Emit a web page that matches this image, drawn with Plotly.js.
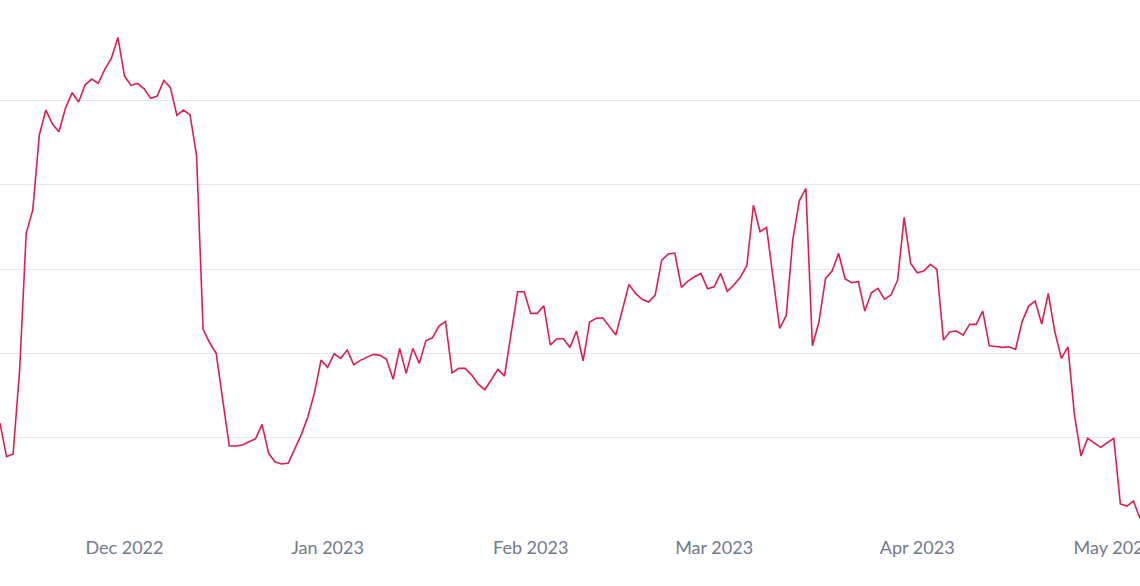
<!DOCTYPE html>
<html>
<head>
<meta charset="utf-8">
<script src="https://cdn.plot.ly/plotly-3.0.1.min.js"></script>
<style>
  html, body { margin: 0; padding: 0; background: #ffffff; }
  #chart { width: 1140px; height: 586px; }
</style>
</head>
<body>
<div id="chart"></div>
<script>
// First day of the daily series
const startDate = '2022-11-12';

// Daily values, Nov 12 2022 -> May 5 2023
const seriesValues = [
  11.70, 7.70, 8.02, 18.00, 34.27, 37.00, 45.92, 48.89, 47.22, 46.31,
  49.12, 50.94, 49.84, 51.89, 52.57, 52.06, 53.72, 55.06, 57.52, 52.93,
  51.82, 52.06, 51.42, 50.28, 50.55, 52.41, 51.58, 48.26, 48.89, 48.33,
  43.54, 22.83, 21.24, 19.98, 14.43, 8.97, 8.97, 9.09, 9.48, 9.83,
  11.54, 8.10, 7.07, 6.83, 6.95, 8.69, 10.36, 12.45, 15.30, 19.18,
  18.32, 19.93, 19.39, 20.37, 18.63, 19.15, 19.50, 19.86, 19.74, 19.27,
  16.89, 20.57, 17.60, 20.57, 18.79, 21.48, 21.83, 23.22, 23.78, 17.67,
  18.20, 18.20, 17.40, 16.33, 15.66, 16.81, 18.08, 17.28, 22.31, 27.30,
  27.30, 24.73, 24.73, 25.64, 20.97, 21.71, 21.71, 20.69, 22.63, 19.10,
  23.70, 24.14, 24.21, 23.14, 22.15, 25.16, 28.18, 27.11, 26.40, 26.07,
  26.91, 31.06, 31.78, 31.90, 27.82, 28.57, 29.08, 29.48, 27.65, 27.89,
  29.48, 27.35, 28.09, 29.01, 30.43, 37.60, 34.43, 34.95, 28.96, 22.95,
  24.45, 33.44, 38.11, 39.58, 20.88, 23.73, 28.89, 29.76, 31.86, 28.81,
  28.37, 28.53, 25.01, 27.18, 27.70, 26.43, 26.91, 28.69, 36.14, 30.67,
  29.56, 29.76, 30.55, 29.96, 21.56, 22.55, 22.63, 22.15, 23.43, 23.43,
  25.01, 20.88, 20.79, 20.69, 20.76, 20.46, 23.73, 25.60, 26.19, 23.46,
  27.11, 22.55, 19.39, 20.76, 12.65, 7.78, 9.88, 9.36, 8.81, 9.36,
  9.88, 2.08, 1.84, 2.43, 0.38
];

// Axis settings
const xRange = ['2022-11-12', '2023-05-05'];
const xTickVals = ['2022-12-01', '2023-01-01', '2023-02-01', '2023-03-01', '2023-04-01', '2023-05-01'];
const xTickText = ['Dec 2022', 'Jan 2023', 'Feb 2023', 'Mar 2023', 'Apr 2023', 'May 2023'];
const yGridVals = [10, 20, 30, 40, 50];
const yRange = [-1.01, 61.97];

// Build the date categories for each daily value
const dates = [];
{
  const d0 = new Date(startDate + 'T00:00:00Z');
  for (let i = 0; i < seriesValues.length; i++) {
    const d = new Date(d0.getTime() + i * 86400000);
    dates.push(d.toISOString().slice(0, 10));
  }
}

const trace = {
  type: 'scatter',
  mode: 'lines',
  x: dates,
  y: seriesValues,
  line: { color: '#dc1f4f', width: 1.6 },
  hoverinfo: 'x+y'
};

const layout = {
  width: 1140,
  height: 586,
  margin: { l: 0, r: 0, t: 0, b: 56, pad: 0 },
  paper_bgcolor: '#ffffff',
  plot_bgcolor: '#ffffff',
  showlegend: false,
  font: { family: 'Lato, "Open Sans", sans-serif', size: 18, color: '#717a8e' },
  xaxis: {
    type: 'date',
    range: xRange,
    tickmode: 'array',
    tickvals: xTickVals,
    ticktext: xTickText,
    showgrid: false,
    zeroline: false,
    showline: false,
    ticks: '',
    ticklabelstandoff: 5,
    ticklabeloverflow: 'allow',
    tickfont: { family: 'Lato, "Open Sans", sans-serif', size: 18, color: '#717a8e' },
    fixedrange: true
  },
  yaxis: {
    range: yRange,
    tickmode: 'array',
    tickvals: yGridVals,
    showticklabels: false,
    showgrid: true,
    gridcolor: '#e8e8ea',
    gridwidth: 1,
    zeroline: false,
    showline: false,
    ticks: '',
    fixedrange: true
  }
};

Plotly.newPlot('chart', [trace], layout, { displayModeBar: false, staticPlot: true });
</script>
</body>
</html>
